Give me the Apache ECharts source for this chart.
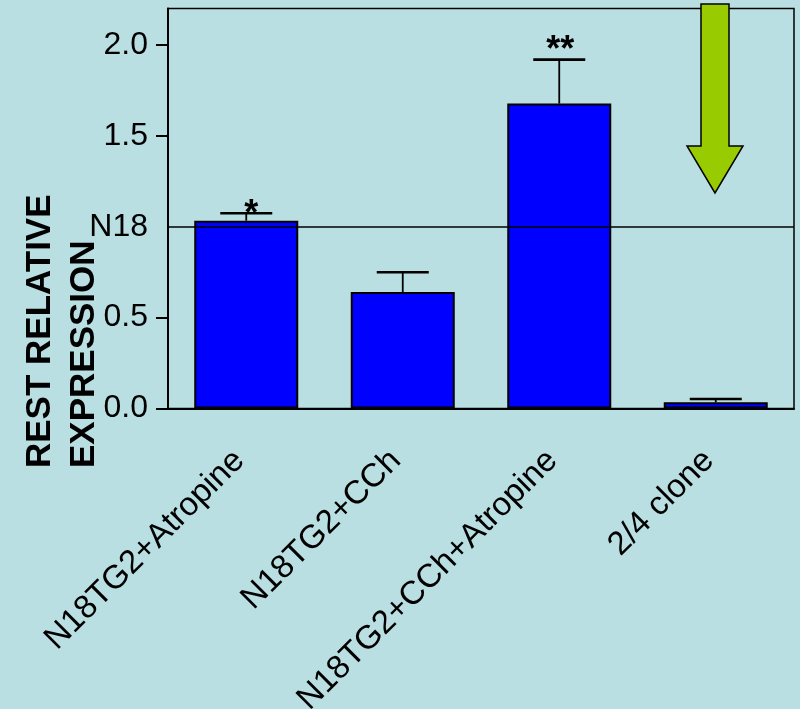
<!DOCTYPE html>
<html>
<head>
<meta charset="utf-8">
<title>REST relative expression</title>
<script src="https://cdn.jsdelivr.net/npm/echarts@6/dist/echarts.min.js"></script>
<style>
  html, body { margin: 0; padding: 0; background: #b9dfe2; }
  #chart { width: 800px; height: 709px; }
</style>
</head>
<body>
<div id="chart"></div>
<script>
// Treatment groups on the x axis
const categories = ['N18TG2+Atropine', 'N18TG2+CCh', 'N18TG2+CCh+Atropine', '2/4 clone'];
// Mean REST expression relative to N18 (= 1.0)
const meanValues = [1.033, 0.641, 1.677, 0.034];
// Upper end of each error bar (mean + SEM)
const errorUpper = [1.074, 0.749, 1.919, 0.052];
// Significance markers above the error bars
const significance = ['*', '', '**', ''];
// Y axis ticks and their labels (the 1.0 level is the N18 reference)
const yTickValues = [0, 0.5, 1.0, 1.5, 2.0];
const yTickLabels = ['0.0', '0.5', 'N18', '1.5', '2.0'];
const referenceLevel = 1.0;

const FONT = '"Liberation Sans", Arial, sans-serif';
const chart = echarts.init(document.getElementById('chart'));

// vertical lift of each significance marker above its cap (px)
const starLift = [-2, 0, 9, 0];

chart.setOption({
  backgroundColor: '#b9dfe2',
  animation: false,
  grid: {
    left: 168, right: 6, top: 8.5, bottom: 300.5,
    outerBoundsMode: 'none',
    containLabel: false,
    show: true, borderColor: '#000', borderWidth: 1.5, backgroundColor: 'transparent'
  },
  xAxis: {
    type: 'category',
    data: categories,
    axisLine: { lineStyle: { color: '#000', width: 2 } },
    axisTick: { alignWithLabel: true, length: 12, lineStyle: { color: '#000', width: 2 } },
    axisLabel: {
      rotate: 45, interval: 0, margin: 40,
      padding: [0, 10, 0, 0],
      color: '#000', fontSize: 33, fontFamily: FONT
    },
    splitLine: { show: false }
  },
  yAxis: {
    type: 'value',
    min: 0, max: 2.2,
    axisLine: { show: true, lineStyle: { color: '#000', width: 2 } },
    axisTick: {
      show: true, length: 12, lineStyle: { color: '#000', width: 2 },
      customValues: yTickValues.filter(v => v !== referenceLevel)
    },
    axisLabel: {
      customValues: yTickValues,
      formatter: v => yTickLabels[yTickValues.findIndex(t => Math.abs(t - v) < 1e-9)],
      margin: 20, color: '#000', fontSize: 32, fontFamily: FONT
    },
    splitLine: { show: false }
  },
  series: [
    {
      // N18 reference level drawn behind the bars
      type: 'line', data: [], z: 1, silent: true,
      markLine: {
        symbol: 'none', silent: true, animation: false,
        label: { show: false },
        lineStyle: { color: '#000', width: 1.5, type: 'solid' },
        data: [{ yAxis: referenceLevel }]
      }
    },
    {
      type: 'bar', z: 2,
      data: meanValues,
      barWidth: 104,
      itemStyle: { color: '#0000ff', borderColor: '#000', borderWidth: 2 }
    },
    {
      type: 'custom', z: 3,
      data: categories.map((c, i) => [i, meanValues[i], errorUpper[i]]),
      renderItem: function (params, api) {
        const i = api.value(0);
        const base = api.coord([i, api.value(1)]);
        const top = api.coord([i, api.value(2)]);
        const half = 26;
        const children = [
          { type: 'line', shape: { x1: base[0], y1: base[1], x2: top[0], y2: top[1] },
            style: { stroke: '#000', lineWidth: 1.8 } },
          { type: 'line', shape: { x1: top[0] - half, y1: top[1], x2: top[0] + half, y2: top[1] },
            style: { stroke: '#000', lineWidth: 2.6 } }
        ];
        const mark = significance[i];
        if (mark) {
          children.push({
            type: 'text',
            x: top[0] + (mark.length === 1 ? 5 : 1),
            y: top[1] - starLift[i],
            style: {
              text: mark, fill: '#000',
              font: 'bold 36px ' + FONT,
              textAlign: 'center', textVerticalAlign: 'middle'
            }
          });
        }
        return { type: 'group', children: children };
      }
    }
  ]
});

// Y axis title (two lines, rotated) and the green call-out arrow
chart.setOption({
  graphic: [
    {
      type: 'text',
      x: 18, y: 468,
      rotation: Math.PI / 2,
      style: {
        text: 'REST RELATIVE\nEXPRESSION',
        font: 'bold 35px ' + FONT,
        lineHeight: 44,
        fill: '#000',
        textAlign: 'left', textVerticalAlign: 'top'
      }
    },
    {
      type: 'polygon',
      z: 10,
      shape: {
        points: [[701, 4], [729, 4], [729, 146], [743, 146], [715, 193], [687, 146], [701, 146]]
      },
      style: { fill: '#99cc00', stroke: '#000', lineWidth: 1.5 }
    }
  ]
});
</script>
</body>
</html>
